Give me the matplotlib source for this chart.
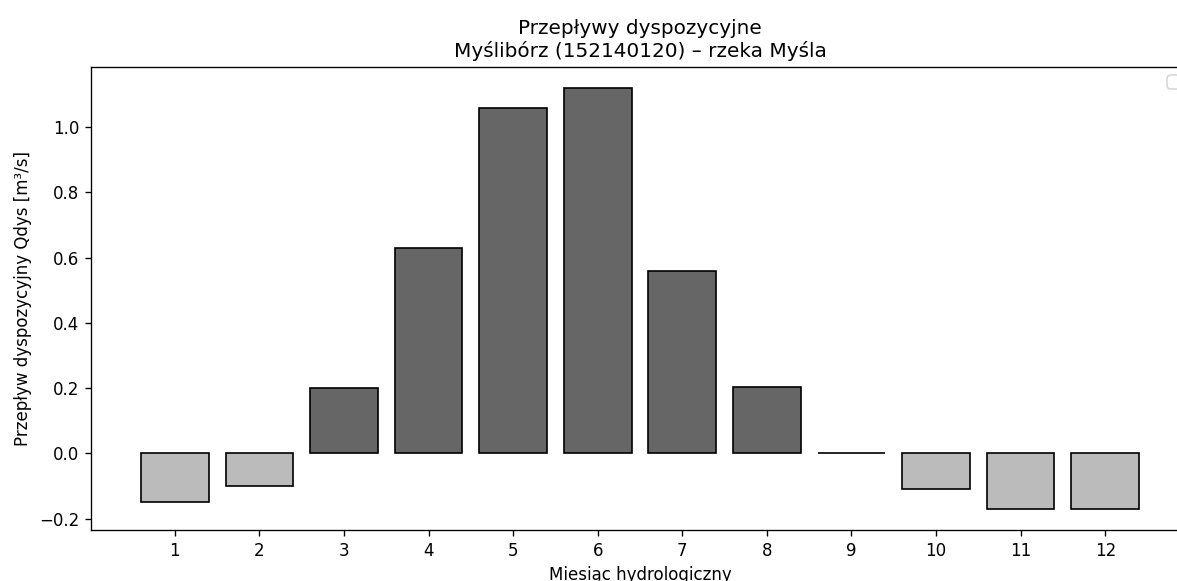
import numpy as np
import matplotlib
matplotlib.use("Agg")
import matplotlib.pyplot as plt

# monthly disposable flows, hydrological months 1..12
months = np.arange(1, 13)
qdys = [-0.15, -0.10, 0.20, 0.63, 1.06, 1.12, 0.56, 0.205, 0.0, -0.11, -0.17, -0.17]

colors = ['#666666' if v > 0 else '#bbbbbb' for v in qdys]

DPI = 120
fig = plt.figure(figsize=(1177/DPI, 581/DPI), dpi=DPI)
# axes runs past the right edge, as in the cropped original
ax = fig.add_axes([91/1177, 51/581, 1098/1177, 463/581])

ax.bar(months, qdys, width=0.8, color=colors, edgecolor='black')

ax.set_xticks(months)
ax.set_xlabel('Miesiąc hydrologiczny')
ax.set_ylabel('Przepływ dyspozycyjny Qdys [m³/s]')
ax.set_title('Przepływy dyspozycyjne\nMyślibórz (152140120) – rzeka Myśla')
ax.legend(handles=[], loc='upper right')

fig.savefig('out.png', dpi=DPI)
